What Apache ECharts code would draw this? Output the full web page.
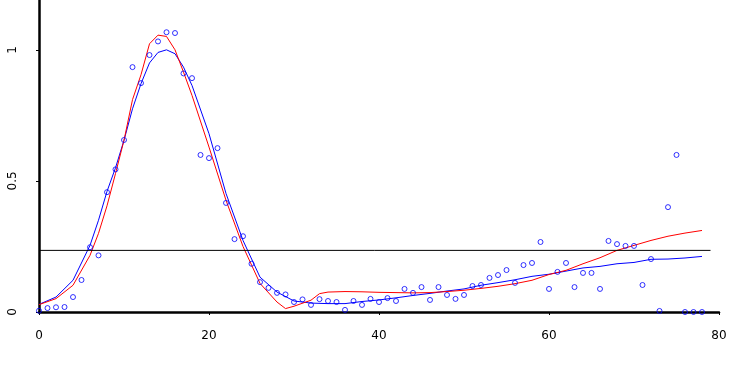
<!DOCTYPE html>
<html>
<head>
<meta charset="utf-8">
<script src="https://cdn.jsdelivr.net/npm/echarts@6/dist/echarts.min.js"></script>
<style>
html,body{margin:0;padding:0;background:#fff;}
#chart{width:736px;height:384px;}
</style>
</head>
<body>
<div id="chart"></div>
<script>
// Observed points (x = index)
var pointX = [];
for (var i = 0; i <= 78; i++) pointX.push(i);
var pointY = [0.005,0.015,0.018,0.019,0.057,0.122,0.247,0.216,0.457,0.544,
  0.656,0.934,0.873,0.980,1.032,1.067,1.064,0.910,0.892,0.599,
  0.587,0.625,0.416,0.278,0.289,0.184,0.114,0.092,0.073,0.067,
  0.038,0.048,0.027,0.049,0.042,0.038,0.008,0.042,0.027,0.050,
  0.038,0.053,0.042,0.088,0.073,0.095,0.046,0.095,0.065,0.050,
  0.065,0.099,0.103,0.130,0.141,0.160,0.111,0.179,0.187,0.267,
  0.088,0.153,0.187,0.095,0.149,0.149,0.088,0.271,0.259,0.252,
  0.252,0.103,0.202,0.004,0.400,0.599,0.000,0.000,0.000];

// Blue fitted curve
var blueX = [0,2,4,6,7,8,9,10,11,12,13,14,15,16,17,18,20,22,24,26,28,30,32,34,36,38,40,42,44,46,48,50,52,54,56,58,60,62,64,66,68,70,72,74,76,78];
var blueY = [0.029,0.057,0.121,0.254,0.350,0.460,0.550,0.655,0.775,0.871,0.950,0.990,1.000,0.985,0.934,0.864,0.680,0.452,0.273,0.133,0.076,0.042,0.034,0.032,0.032,0.040,0.046,0.054,0.063,0.071,0.080,0.088,0.102,0.112,0.123,0.136,0.144,0.156,0.168,0.174,0.184,0.189,0.201,0.202,0.206,0.212];

// Red fitted curve
var redX = [0,2,4,6,7,8,9,10,11,12,13,14,15,16,17,18,20,22,24,26,28,29,30,32,33,34,36,38,40,42,44,46,48,50,52,54,56,58,60,62,64,66,68,70,72,74,76,78];
var redY = [0.028,0.051,0.102,0.216,0.300,0.405,0.528,0.655,0.810,0.905,1.023,1.056,1.051,1.000,0.915,0.826,0.629,0.426,0.250,0.109,0.038,0.013,0.022,0.045,0.070,0.076,0.078,0.077,0.075,0.074,0.073,0.074,0.078,0.083,0.090,0.098,0.108,0.121,0.143,0.159,0.184,0.207,0.235,0.254,0.273,0.289,0.301,0.311];

// Reference horizontal line
var refX = [0, 79];
var refY = [0.235, 0.235];

function pairs(xs, ys){ return xs.map(function(x,i){ return [x, ys[i]]; }); }

var chart = echarts.init(document.getElementById('chart'), null, {renderer:'canvas'});
chart.setOption({
  animation: false,
  backgroundColor: '#ffffff',
  grid: {left: 39, right: 17, top: 0, bottom: 72, containLabel: false},
  xAxis: {
    type: 'value', min: 0, max: 80, interval: 20,
    axisLine: {show: true, onZero: false, lineStyle: {color: '#000', width: 2.5}},
    axisTick: {show: true, length: 3, lineStyle: {color: '#000', width: 1}},
    axisLabel: {color: '#000', fontFamily: 'DejaVu Sans', fontSize: 12, margin: 18},
    splitLine: {show: false}
  },
  yAxis: {
    type: 'value', min: 0, max: 1.19, interval: 0.5,
    axisLine: {show: true, onZero: false, lineStyle: {color: '#000', width: 2.5}},
    axisTick: {show: true, length: 3, lineStyle: {color: '#000', width: 1}},
    axisLabel: {color: '#000', fontFamily: 'DejaVu Sans', fontSize: 12, margin: 20, rotate: 90, showMaxLabel: false,
      formatter: function(v){ return String(v); }},
    splitLine: {show: false}
  },
  series: [
    {
      type: 'scatter', data: pairs(pointX, pointY), symbol: 'circle', symbolSize: 5,
      itemStyle: {color: 'rgba(255,255,255,0)', borderColor: '#0000ff', borderWidth: 1}, z: 3
    },
    {
      type: 'line', data: pairs(blueX, blueY), showSymbol: false, symbol: 'none', smooth: false,
      lineStyle: {color: '#0000ff', width: 1}, z: 2
    },
    {
      type: 'line', data: pairs(redX, redY), showSymbol: false, symbol: 'none', smooth: false,
      lineStyle: {color: '#ff0000', width: 1}, z: 2
    },
    {
      type: 'line', data: pairs(refX, refY), showSymbol: false, symbol: 'none',
      lineStyle: {color: '#000000', width: 1}, z: 2
    }
  ]
});
</script>
</body>
</html>
